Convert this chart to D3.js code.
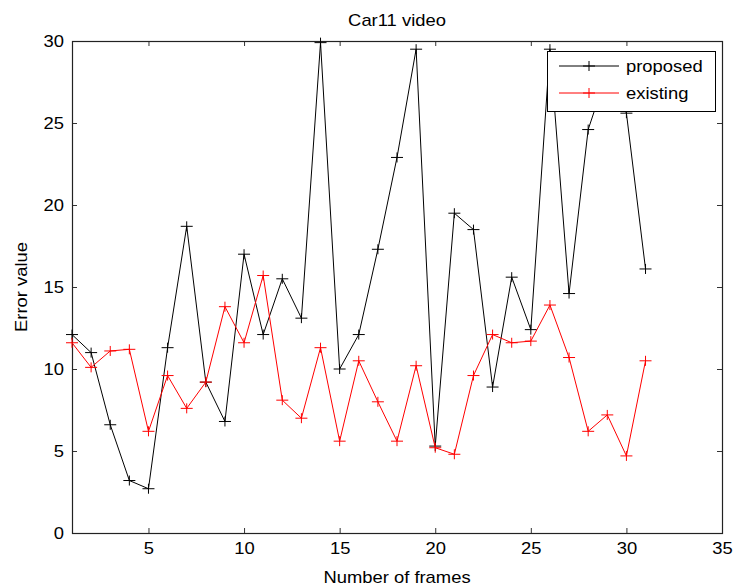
<!DOCTYPE html>
<meta charset="utf-8">
<script src="https://d3js.org/d3.v7.min.js"></script>
<style>
  body { margin: 0; background: #fff; }
  text { font-family: "Liberation Sans", Arial, sans-serif; }
</style>
<body>
<svg width="736" height="588"></svg>
<script>
// chart data
var frames = d3.range(1, 32);
var proposed = [12.1, 11.0, 6.6, 3.2, 2.7, 11.3, 18.7, 9.2, 6.8, 17.0,
                12.1, 15.5, 13.1, 29.9, 10.0, 12.1, 17.3, 22.9, 29.5, 5.3,
                19.5, 18.5, 8.9, 15.6, 12.4, 29.5, 14.6, 24.6, 28.1, 25.6, 16.1];
var existing = [11.6, 10.1, 11.1, 11.2, 6.2, 9.6, 7.6, 9.2, 13.8, 11.6,
                15.7, 8.1, 7.0, 11.3, 5.6, 10.5, 8.0, 5.6, 10.2, 5.2,
                4.8, 9.6, 12.1, 11.6, 11.7, 13.9, 10.7, 6.2, 7.2, 4.7, 10.5];
var xTicks = [5, 10, 15, 20, 25, 30, 35];
var yTicks = [0, 5, 10, 15, 20, 25, 30];
var seriesNames = ["proposed", "existing"];
var seriesColors = ["#000000", "#ff0000"];

var svg = d3.select("svg"),
    margin = {top: 41, right: 14, bottom: 55, left: 72},
    width = +svg.attr("width") - margin.left - margin.right,
    height = +svg.attr("height") - margin.top - margin.bottom,
    g = svg.append("g").attr("transform", "translate(" + margin.left + "," + margin.top + ")");

var sx = 1.15; // the text in the picture is a bit wide

var x = d3.scaleLinear().domain([1, 35]).range([0, width]);
var y = d3.scaleLinear().domain([0, 30]).range([height, 0]);

// white axes area with box
g.append("rect")
    .attr("width", width)
    .attr("height", height)
    .attr("fill", "#fff");

function styleAxis(sel) {
  sel.select(".domain").remove();
  sel.selectAll(".tick line").attr("stroke", "#333");
  sel.selectAll(".tick text")
      .attr("fill", "#000")
      .style("font-size", "16px")
      .attr("transform", "scale(" + sx + ",1)");
}

g.append("g")
    .attr("transform", "translate(0," + height + ")")
    .call(d3.axisBottom(x).tickValues(xTicks).tickSize(-5).tickPadding(10))
    .call(styleAxis);

g.append("g")
    .call(d3.axisTop(x).tickValues(xTicks).tickSize(-5).tickFormat(""))
    .call(styleAxis);

g.append("g")
    .call(d3.axisLeft(y).tickValues(yTicks).tickSize(-5).tickPadding(7))
    .call(styleAxis);

g.append("g")
    .attr("transform", "translate(" + width + ",0)")
    .call(d3.axisRight(y).tickValues(yTicks).tickSize(-5).tickFormat(""))
    .call(styleAxis);

g.append("rect")
    .attr("x", 0.5)
    .attr("y", 0.5)
    .attr("width", width)
    .attr("height", height)
    .attr("fill", "none")
    .attr("stroke", "#222")
    .attr("stroke-width", 1.2);

// lines and + markers
var series = [proposed, existing];
var line = d3.line()
    .x(function(d, i) { return x(frames[i]); })
    .y(function(d) { return y(d); });

function plus(px, py) {
  return "M" + (px - 6) + "," + py + "H" + (px + 6) +
         "M" + px + "," + (py - 5) + "V" + (py + 5);
}

series.forEach(function(vals, k) {
  g.append("path")
      .datum(vals)
      .attr("fill", "none")
      .attr("stroke", seriesColors[k])
      .attr("stroke-width", 1)
      .attr("d", line);

  g.append("g").selectAll("path")
      .data(vals)
      .enter().append("path")
      .attr("fill", "none")
      .attr("stroke", seriesColors[k])
      .attr("stroke-width", 1)
      .attr("d", function(d, i) { return plus(x(frames[i]), y(d)); });
});

// legend
var legend = g.append("g").attr("transform", "translate(" + (width - 175) + ",10)");

legend.append("rect")
    .attr("x", 0.5)
    .attr("y", 0.5)
    .attr("width", 168)
    .attr("height", 60)
    .attr("fill", "#fff")
    .attr("stroke", "#000");

var item = legend.selectAll(".item")
    .data(seriesNames)
    .enter().append("g")
    .attr("class", "item")
    .attr("transform", function(d, i) { return "translate(0," + (15 + i * 27) + ")"; });

item.append("line")
    .attr("x1", 12)
    .attr("x2", 72)
    .attr("stroke", function(d, i) { return seriesColors[i]; });

item.append("path")
    .attr("fill", "none")
    .attr("stroke", function(d, i) { return seriesColors[i]; })
    .attr("d", plus(42, 0));

item.append("text")
    .attr("transform", "translate(79,0) scale(" + sx + ",1)")
    .attr("dy", "0.35em")
    .style("font-size", "16px")
    .text(function(d) { return d; });

// titles
svg.append("text")
    .attr("transform", "translate(" + (margin.left + width / 2) + ",26) scale(" + sx + ",1)")
    .attr("text-anchor", "middle")
    .style("font-size", "16px")
    .text("Car11 video");

svg.append("text")
    .attr("transform", "translate(" + (margin.left + width / 2) + ",583) scale(" + sx + ",1)")
    .attr("text-anchor", "middle")
    .style("font-size", "16px")
    .text("Number of frames");

svg.append("text")
    .attr("transform", "translate(27," + (margin.top + height / 2) + ") rotate(-90) scale(" + sx + ",1)")
    .attr("text-anchor", "middle")
    .style("font-size", "16px")
    .text("Error value");
</script>
</body>
